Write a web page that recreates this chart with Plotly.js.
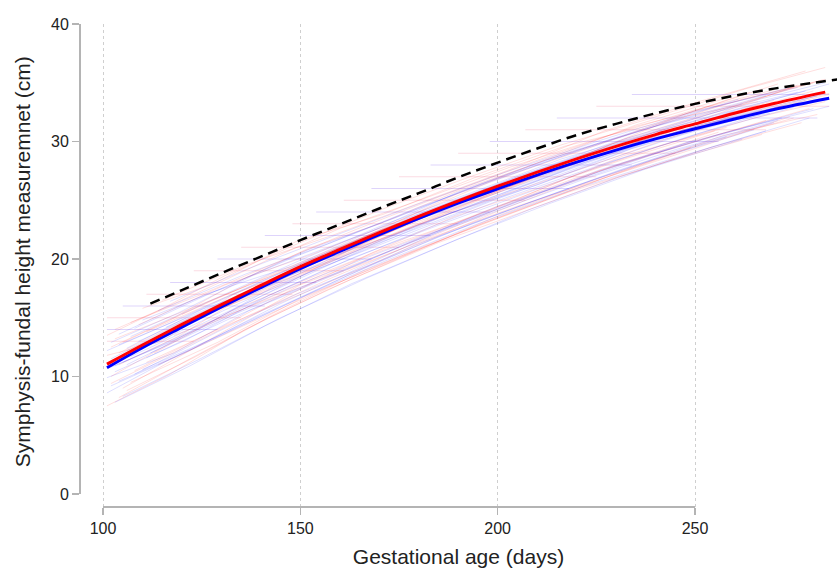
<!DOCTYPE html>
<html>
<head>
<meta charset="utf-8">
<script src="https://cdn.plot.ly/plotly-3.0.1.min.js"></script>
<style>html,body{margin:0;padding:0;background:#fff;}#chart{width:837px;height:571px;}</style>
</head>
<body>
<div id="chart"></div>
<script>
// Mean curves
const meanRedX = [101,110,120,130,140,150,160,170,180,190,200,210,220,230,240,250,260,270,283];
const meanRedY = [11.05,12.68,14.43,16.12,17.75,19.35,20.81,22.25,23.63,24.95,26.2,27.39,28.52,29.59,30.59,31.5,32.41,33.23,34.2];
const meanBlueX = [101,110,120,130,140,150,160,170,180,190,200,210,220,230,240,250,260,270,284];
const meanBlueY = [10.75,12.45,14.2,15.92,17.57,19.18,20.64,22.07,23.45,24.75,25.98,27.14,28.24,29.27,30.22,31.08,31.92,32.72,33.68];
const refX = [112,120,130,140,150,160,170,180,190,200,210,220,230,240,250,260,270,280,290];
const refY = [16.2,17.35,18.8,20.2,21.6,22.95,24.3,25.6,26.95,28.2,29.4,30.55,31.5,32.4,33.2,33.9,34.5,35.0,35.45];

// Individual trajectories (approximate)
const redTrajX = [
 [102,118,135,152,170,190,212,236,262,280],
 [105,125,148,168,189,210,233,255],
 [103,120,141,160,181,203,226,249,270],
 [108,130,150,172,195,219,242,268],
 [101,115,133,155,177,198,221,245,275],
 [110,128,149,171,194,217,240,264],
 [104,122,144,166,188,209,231,257,281],
 [112,134,156,179,200,224,247,272],
 [106,126,147,165,187,206,229,252,276],
 [102,121,140,162,184,207,232,258],
 [115,137,158,182,203,227,251,278],
 [107,129,151,173,196,218,243,267],
 [103,124,146,169,192,213,238,262,284],
 [118,139,161,183,205,228,250,274],
 [104,119,138,159,180,202,223,248,271],
 [109,131,153,176,199,221,244,266],
 [101,117,136,157,178,201,225,249],
 [113,132,154,175,197,220,241,265,283],
 [105,127,145,167,190,211,235,259],
 [111,133,155,178,201,226,253,279],
 [101,114,131,150,172,193,216,239,263,283],
 [106,123,142,163,185,208,230,254,277],
 [103,126,149,171,194,218,241,266],
 [109,127,146,166,188,212,237,263,284],
 [120,142,163,186,209,233,258,282],
 [102,119,137,158,180,204,229,256],
 [107,125,144,164,186,210,235,261,283],
 [114,135,157,180,203,227,252,275],
 [104,121,140,161,183,206,229,253,280],
 [111,130,152,175,198,222,246,270]
];
const redTrajY = [
 [12.5,15.0,18.2,20.9,23.0,25.8,28.4,30.9,33.6,35.0],
 [9.0,12.8,17.1,20.5,23.6,26.0,28.6,30.9],
 [14.0,16.5,19.8,22.6,25.1,27.8,30.3,32.6,34.4],
 [10.5,14.2,17.8,20.6,23.8,26.8,29.2,31.8],
 [11.8,13.0,17.0,19.9,22.5,25.5,28.7,31.4,34.6],
 [15.8,17.9,21.5,23.8,26.9,29.6,31.5,34.2],
 [8.2,11.5,15.4,19.0,21.9,24.6,27.4,30.5,32.3],
 [13.0,16.8,19.5,22.8,25.3,28.0,30.7,33.0],
 [12.2,15.3,18.0,21.2,24.4,26.5,29.8,31.9,34.8],
 [10.0,13.6,16.4,19.6,22.4,25.4,28.8,31.2],
 [16.5,19.6,22.0,25.0,27.6,30.9,33.4,36.0],
 [9.5,12.9,16.8,19.8,23.0,25.7,28.3,30.6],
 [13.2,16.0,19.0,22.3,25.2,27.4,30.2,32.2,34.0],
 [13.5,16.2,19.0,21.8,24.5,27.0,29.4,32.1],
 [11.0,13.4,17.3,20.2,23.4,26.0,29.0,32.4,34.9],
 [14.4,17.8,20.4,23.4,26.7,29.2,31.9,33.4],
 [7.5,10.2,14.0,17.4,20.5,23.8,26.8,29.5],
 [12.0,15.5,18.6,21.4,24.0,27.2,29.6,32.0,33.4],
 [12.9,16.4,18.9,22.0,25.6,28.3,31.4,33.8],
 [11.2,14.6,17.7,21.0,24.2,27.5,30.3,32.8],
 [13.5,15.6,18.6,21.4,24.4,27.0,29.7,32.0,34.5,36.3],
 [8.8,11.6,15.0,18.3,21.4,24.2,26.9,29.5,31.6],
 [11.4,15.2,18.5,21.8,25.0,28.1,30.6,33.1],
 [12.6,15.4,18.2,21.1,24.0,27.3,30.0,32.5,34.1],
 [15.3,18.6,21.5,24.5,27.2,30.3,32.9,35.2],
 [9.4,12.2,15.2,18.4,21.5,24.8,27.9,30.8],
 [14.6,17.0,19.7,22.5,25.4,28.4,31.3,33.5,35.3],
 [11.0,14.2,17.6,20.9,23.9,26.9,29.8,32.0],
 [12.0,14.8,17.8,20.6,23.8,26.8,29.3,31.8,34.3],
 [13.8,16.6,19.6,22.6,25.4,28.4,31.2,33.5]
];
const blueTrajX = [
 [102,120,139,160,182,204,228,251,273],
 [104,123,145,166,187,209,232,256,280],
 [107,128,150,171,193,216,239,262],
 [101,116,136,158,179,200,223,247,270],
 [110,131,152,174,196,219,243,268],
 [103,121,142,164,186,207,230,254,278],
 [106,125,147,168,191,213,236,260],
 [112,134,156,177,199,222,245,271],
 [102,119,138,161,183,205,229,253,276],
 [108,129,149,170,194,217,240,265],
 [105,124,143,165,188,210,234,257,282],
 [114,136,157,180,202,225,249,274],
 [101,118,137,159,181,203,226,250],
 [109,130,153,175,198,221,246,269],
 [103,122,141,163,185,208,231,255,279],
 [116,138,160,181,203,227,252,277],
 [104,126,148,169,190,212,237,261],
 [111,132,154,176,200,224,248,272],
 [102,117,135,156,178,199,222,244,267],
 [107,127,146,167,189,211,233,258,281],
 [101,116,134,153,174,196,219,242,266,284],
 [105,124,145,167,190,213,237,262],
 [108,128,148,169,192,215,239,264,283],
 [103,118,136,157,179,202,226,251,275],
 [113,133,154,176,199,223,247,273],
 [102,120,140,162,185,208,232,258],
 [117,137,158,180,202,226,250,276],
 [106,126,147,169,191,214,238,263,284],
 [104,121,139,160,182,205,228,252,278],
 [110,129,150,172,195,218,242,268]
];
const blueTrajY = [
 [11.5,14.6,17.2,20.7,23.6,26.1,29.0,31.4,33.1],
 [9.6,12.4,16.2,19.4,22.6,25.4,28.2,30.6,32.8],
 [13.4,16.6,19.9,22.9,25.6,28.5,30.8,33.2],
 [8.6,11.3,14.6,18.0,21.2,23.8,26.6,29.4,31.6],
 [14.8,17.6,20.8,23.5,26.4,29.2,31.6,33.9],
 [10.4,13.1,16.9,20.2,23.0,25.6,28.4,31.0,33.5],
 [12.4,15.7,18.3,21.7,24.9,27.3,30.0,32.6],
 [12.0,15.4,18.4,21.3,24.0,26.8,29.3,31.8],
 [12.9,15.4,18.6,21.5,24.2,27.0,29.9,32.3,34.2],
 [10.2,13.8,17.0,19.8,23.1,25.9,28.5,31.0],
 [11.2,14.0,17.6,20.6,23.9,26.3,29.4,31.6,34.0],
 [15.6,18.7,21.3,24.4,27.0,29.8,32.4,34.6],
 [9.9,12.0,15.6,18.7,21.9,24.6,27.6,30.1],
 [13.0,16.2,19.6,22.2,25.2,28.1,30.9,32.4],
 [7.8,10.9,14.3,17.9,21.0,24.2,27.0,29.6,32.0],
 [14.2,17.5,20.1,23.0,25.8,28.7,31.5,33.2],
 [13.6,17.0,19.4,22.5,25.7,28.4,31.0,33.6],
 [11.6,14.9,18.1,21.1,24.5,27.1,29.9,32.0],
 [10.8,12.9,16.0,19.5,22.7,25.2,28.2,30.6,32.7],
 [11.7,14.8,17.8,21.0,23.8,26.6,29.3,32.0,33.9],
 [12.2,14.4,17.2,20.0,22.9,25.8,28.6,31.0,33.2,34.9],
 [8.3,11.4,15.0,18.4,21.7,24.7,27.6,30.2],
 [14.1,17.2,20.1,22.9,25.9,28.6,31.2,33.4,35.0],
 [10.9,13.2,16.0,19.2,22.2,25.2,28.0,30.7,32.9],
 [12.8,16.0,19.1,22.0,25.0,27.9,30.6,33.0],
 [9.2,11.9,15.1,18.6,21.9,24.8,27.7,30.4],
 [16.4,19.2,21.9,24.7,27.4,30.1,32.6,34.6],
 [11.0,14.3,17.5,20.4,23.2,26.1,28.8,31.2,33.0],
 [12.7,15.1,17.9,21.0,24.1,27.0,29.6,32.0,34.3],
 [10.6,13.4,16.7,19.9,23.0,25.8,28.3,30.9]
];
// Flat (plateau) segments at whole-cm readings
const flatLevels = [13,14,15,16,17,18,19,20,21,22,23,24,25,26,27,28,29,30,31,32,33,34];
const flatStart  = [101,101,101,105,111,117,123,129,135,141,148,154,161,168,175,183,190,198,207,215,225,234];
const flatEnd    = [123,129,135,141,148,154,161,168,175,183,190,198,207,218,225,234,245,256,268,281,284,284];

const traces = [];
redTrajX.forEach((xs, i) => traces.push({x: xs, y: redTrajY[i], type: 'scatter', mode: 'lines',
  line: {color: 'rgba(255,0,0,0.13)', width: 1}, hoverinfo: 'skip', showlegend: false}));
blueTrajX.forEach((xs, i) => traces.push({x: xs, y: blueTrajY[i], type: 'scatter', mode: 'lines',
  line: {color: 'rgba(0,0,255,0.13)', width: 1}, hoverinfo: 'skip', showlegend: false}));
flatLevels.forEach((lv, i) => traces.push({x: [flatStart[i], flatEnd[i]], y: [lv, lv], type: 'scatter', mode: 'lines',
  line: {color: i % 2 ? 'rgba(60,0,230,0.17)' : 'rgba(230,0,60,0.14)', width: 1}, hoverinfo: 'skip', showlegend: false}));

traces.push({x: meanBlueX, y: meanBlueY, type: 'scatter', mode: 'lines', line: {color: '#0000ff', width: 3, shape: 'spline'}, showlegend: false});
traces.push({x: meanRedX, y: meanRedY, type: 'scatter', mode: 'lines', line: {color: '#ff0000', width: 3, shape: 'spline'}, showlegend: false});
traces.push({x: refX, y: refY, type: 'scatter', mode: 'lines', line: {color: '#000000', width: 2.5, dash: '10px,6px', shape: 'spline'}, showlegend: false});

const axisGray = '#b4b4b4';
const layout = {
  width: 837, height: 571,
  margin: {l: 80, r: 0, t: 24, b: 64, pad: 0},
  paper_bgcolor: '#ffffff', plot_bgcolor: '#ffffff',
  font: {family: '"Liberation Sans", Arial, sans-serif', color: '#222222', size: 16},
  xaxis: {
    range: [94.17, 285.98], tickvals: [100, 150, 200, 250], ticktext: ['100','150','200','250'],
    ticks: 'outside', ticklen: 7, tickwidth: 1.5, tickcolor: axisGray,
    showline: false, zeroline: false, showgrid: true, gridcolor: '#cfcfcf', griddash: 'dot', gridwidth: 1,
    tickfont: {size: 16, color: '#222'},
    title: {text: 'Gestational age (days)', font: {size: 21, color: '#222'}, standoff: 13}
  },
  yaxis: {
    range: [-1.106, 40], tickvals: [0, 10, 20, 30, 40], ticktext: ['0','10','20','30','40'],
    ticks: 'outside', ticklen: 7, tickwidth: 1.5, tickcolor: axisGray,
    showline: false, zeroline: false, showgrid: false,
    tickfont: {size: 16, color: '#222'}
  },
  annotations: [
    {text: 'Symphysis-fundal height measuremnet (cm)', xref: 'paper', yref: 'paper',
     x: -0.0766, y: 0.507, xanchor: 'center', yanchor: 'middle', textangle: -90, showarrow: false,
     font: {size: 21, color: '#222'}}
  ],
  shapes: [
    {type: 'line', xref: 'paper', x0: 0, x1: 0, yref: 'y', y0: 0, y1: 40, line: {color: axisGray, width: 2}},
    {type: 'line', yref: 'paper', y0: 0, y1: 0, xref: 'x', x0: 100, x1: 250, line: {color: axisGray, width: 2}}
  ]
};
Plotly.newPlot('chart', traces, layout, {displayModeBar: false, staticPlot: true});
</script>
</body>
</html>
